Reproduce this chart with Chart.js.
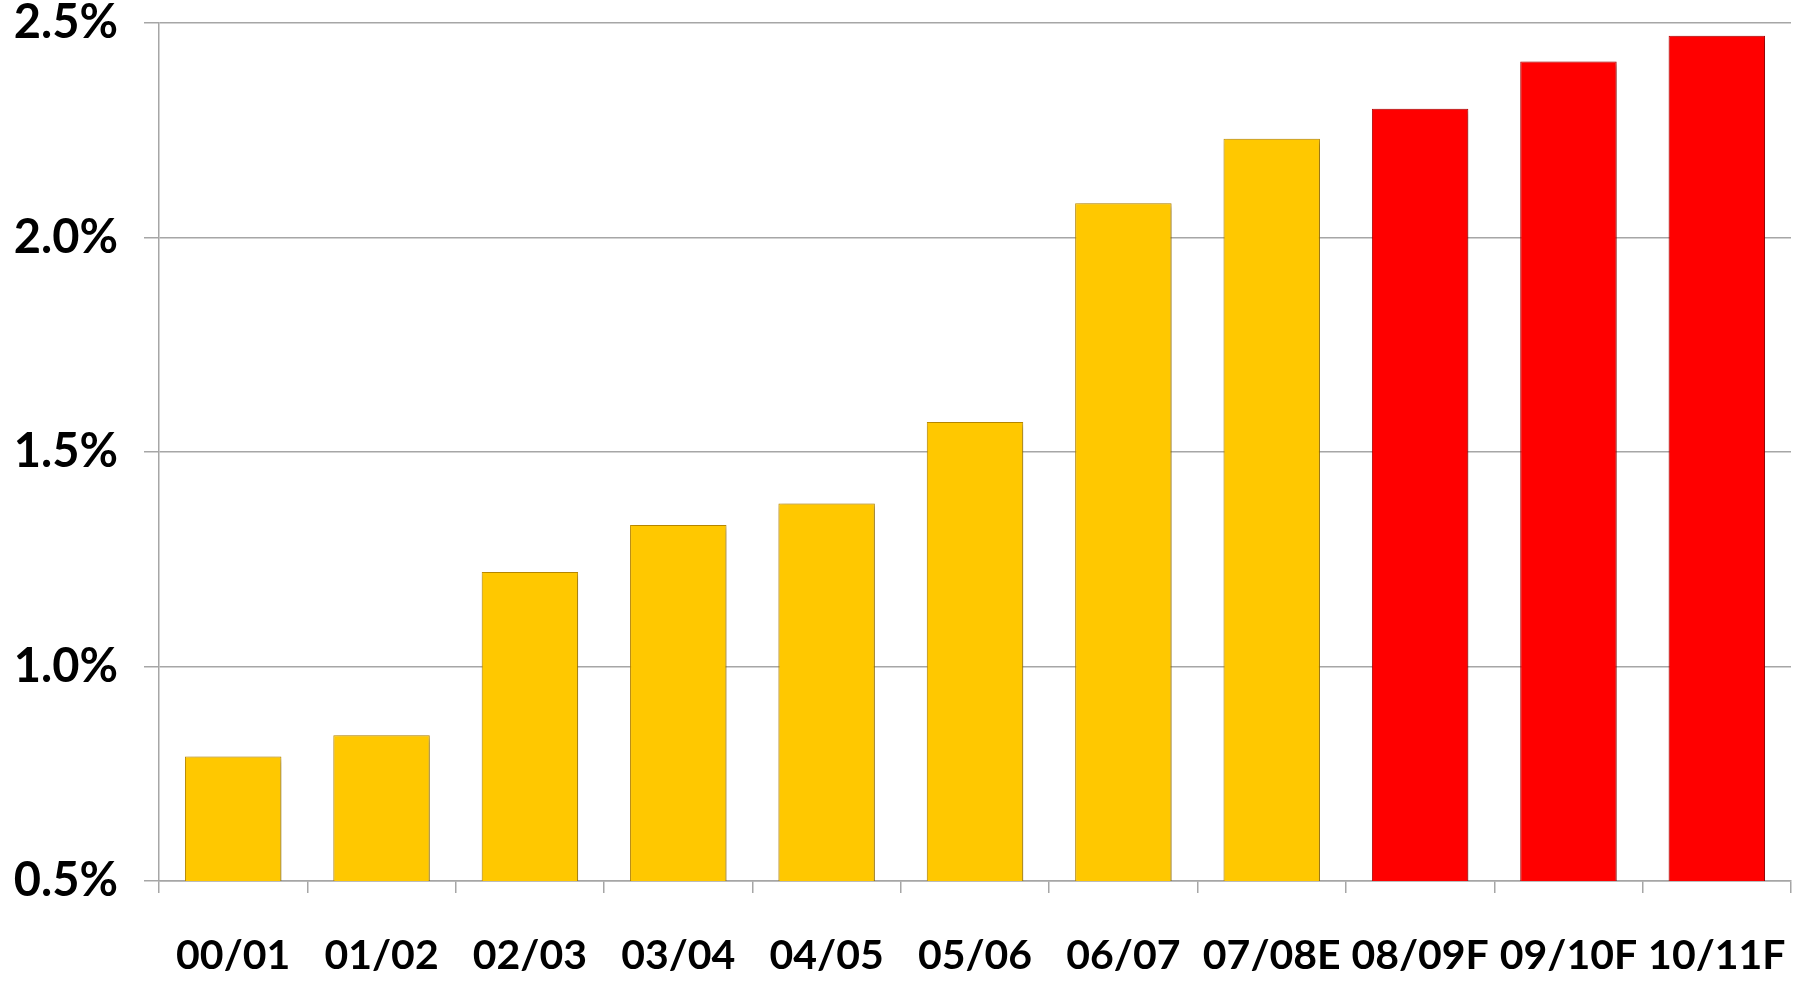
<!DOCTYPE html>
<html>
<head>
<meta charset="utf-8">
<script src="https://cdn.jsdelivr.net/npm/chart.js@4.4.1/dist/chart.umd.min.js"></script>
<style>
  html, body { margin: 0; padding: 0; background: #fff; }
  #wrap { width: 1806px; height: 982px; position: relative; }
</style>
</head>
<body>
<div id="wrap"><canvas id="chart"></canvas></div>
<script>
// fiscal years, E = estimate, F = forecast
const years = ['00/01', '01/02', '02/03', '03/04', '04/05', '05/06', '06/07', '07/08E', '08/09F', '09/10F', '10/11F'];
const shares = [0.79, 0.84, 1.22, 1.33, 1.38, 1.57, 2.08, 2.23, 2.30, 2.41, 2.47];
const forecast = [false, false, false, false, false, false, false, false, true, true, true];

const yellow = '#FFC800';
const red = '#FF0000';

// soft drop shadow under the bars
const barShadow = {
    id: 'barShadow',
    beforeDatasetsDraw(chart) {
        const ctx = chart.ctx;
        ctx.save();
        ctx.shadowColor = 'rgba(0,0,0,0.35)';
        ctx.shadowBlur = 6;
        ctx.shadowOffsetX = 2;
        ctx.shadowOffsetY = 2;
    },
    afterDatasetsDraw(chart) {
        chart.ctx.restore();
    }
};

const ctx = document.getElementById('chart').getContext('2d');
new Chart(ctx, {
    type: 'bar',
    data: {
        labels: years,
        datasets: [{
            data: shares,
            backgroundColor: forecast.map(f => f ? red : yellow),
            borderColor: forecast.map(f => f ? '#B80000' : '#C39000'),
            borderWidth: 1,
            barPercentage: 0.65,
            categoryPercentage: 1
        }]
    },
    options: {
        responsive: true,
        maintainAspectRatio: false,
        animation: false,
        layout: { padding: { top: 23, right: 15, left: 0, bottom: 0 } },
        plugins: {
            legend: { display: false },
            tooltip: { enabled: false }
        },
        scales: {
            x: {
                grid: {
                    offset: true,
                    drawOnChartArea: false,
                    drawTicks: true,
                    tickLength: 12,
                    color: '#A6A6A6',
                    lineWidth: 1.5
                },
                border: { display: true, color: '#A6A6A6', width: 1.5 },
                ticks: {
                    autoSkip: false,
                    maxRotation: 0,
                    minRotation: 0,
                    padding: 38,
                    color: '#000',
                    font: { family: 'Lato', weight: 'bold', size: 41 }
                },
                afterFit(axis) {
                    axis.height = 101;
                    axis.paddingLeft = 0;
                    axis.paddingRight = 0;
                }
            },
            y: {
                min: 0.5,
                max: 2.5,
                ticks: {
                    stepSize: 0.5,
                    padding: 26,
                    color: '#000',
                    font: { family: 'Lato', weight: 'bold', size: 47 },
                    callback: v => v.toFixed(1) + '%'
                },
                grid: {
                    color: '#A6A6A6',
                    lineWidth: 1.5,
                    drawTicks: true,
                    tickLength: 15
                },
                border: { display: true, color: '#A6A6A6', width: 1.5 },
                afterFit(axis) {
                    axis.width = 159;
                    axis.paddingTop = 0;
                    axis.paddingBottom = 0;
                }
            }
        }
    },
    plugins: [barShadow]
});
</script>
</body>
</html>
